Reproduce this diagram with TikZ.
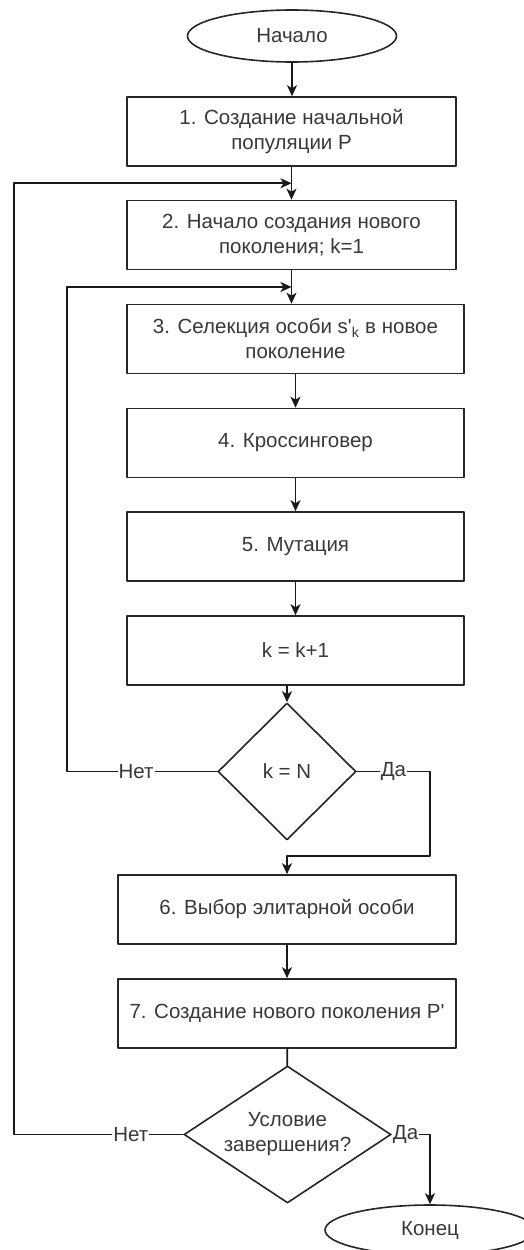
\documentclass[tikz,border=0pt]{standalone}
\usepackage{fontspec}
\setmainfont{Liberation Sans}
\usetikzlibrary{arrows.meta,calc,positioning,shapes.geometric}

\begin{document}
\begin{tikzpicture}[x=1pt,y=-1pt,line cap=round,line join=round,
	>={Stealth[length=11pt,width=10pt,inset=3pt]},
	every node/.style={font=\fontsize{20.5}{25}\selectfont,text=black!78},
	blok/.style={draw=black!85,line width=1.6pt,rectangle,align=center,minimum height=69pt,inner sep=2pt},
	term/.style={draw=black!85,line width=1.6pt,ellipse,minimum width=209pt,minimum height=52pt,inner sep=0pt},
	uslovie/.style={draw=black!85,line width=1.6pt,diamond,align=center,minimum height=137pt,inner sep=0pt},
	strelka/.style={->,line width=1.8pt,draw=black!90},
	liniya/.style={line width=1.8pt,draw=black!90},
	metka/.style={fill=white,inner sep=1pt}]

\clip (0,0) rectangle (524,1250);

\node[term] (nachalo) at (292,36) {Начало};
\node[blok,minimum width=329pt] (b1) at (291.5,131.5) {1. Создание начальной\\популяции P};
\node[blok,minimum width=329pt] (b2) at (291.5,235) {2. Начало создания нового\\поколения; k=1};
\node[blok,minimum width=337pt] (b3) at (295.5,339) {3. Селекция особи s\textquotesingle\textsubscript{k} в новое\\поколение};
\node[blok,minimum width=337pt] (b4) at (295.5,443) {4. Кроссинговер};
\node[blok,minimum width=337pt] (b5) at (295.5,546.5) {5. Мутация};
\node[blok,minimum width=337pt] (b6) at (295.5,650.5) {k = k+1};
\node[uslovie,minimum width=138pt] (d1) at (287,771.5) {k = N};
\node[blok,minimum width=338pt] (b7) at (287,909.5) {6. Выбор элитарной особи};
\node[blok,minimum width=338pt] (b8) at (287,1013.5) {7. Создание нового поколения P\textquotesingle};
\node[uslovie,minimum width=207pt,aspect=1.5] (d2) at (287.5,1134.5) {Условие\\завершения?};
\node[term,minimum width=210pt,minimum height=50pt] (konec) at (430,1230) {Конец};

\coordinate (v1) at ($(b1.south)!0.5!(b2.north)$);
\coordinate (v2) at ($(b2.south)!0.5!(b2.south |- b3.north)$);
\coordinate (v3) at ($(b7.north)+(0,-18)$);
\coordinate (lev1) at (14,0);
\coordinate (lev2) at (67,0);
\coordinate (prav) at (430,0);

\draw[strelka] (nachalo.south) -- (nachalo.south |- b1.north);
\draw[strelka] (b1.south) -- (b2.north);
\draw[strelka] (b2.south) -- (b2.south |- b3.north);
\draw[strelka] (b3) -- (b4);
\draw[strelka] (b4) -- (b5);
\draw[strelka] (b5) -- (b6);
\draw[strelka] (b6.south -| d1.north) -- (d1.north);
\draw[strelka] (d1.east) -- node[metka,pos=0.5] {Да} (d1.east -| prav) |- (v3) -- (b7.north);
\draw[strelka] (d1.west) -- node[metka,pos=0.54] {Нет} (d1.west -| lev2) |- (v2);
\draw[strelka] (b7) -- (b8);
\draw[liniya] (b8) -- (d2);
\draw[strelka] (d2.east) -- node[metka,pos=0.36] {Да} (d2.east -| prav) -- (konec.north);
\draw[strelka] (d2.west) -- node[metka,pos=0.31] {Нет} (d2.west -| lev1) |- (v1);
\end{tikzpicture}
\end{document}
